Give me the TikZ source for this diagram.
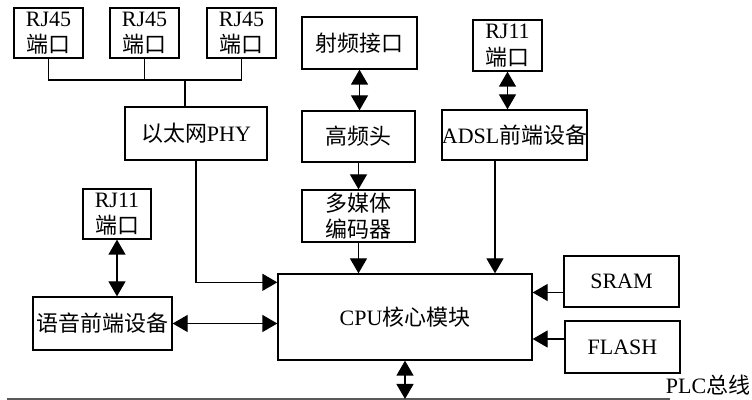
\documentclass[tikz,border=0pt]{standalone}
\usepackage{fontspec}
\usepackage{tikz}
\usetikzlibrary{arrows.meta}
\setmainfont{Liberation Serif}
\newfontfamily\cjk{Noto Sans CJK SC}

\begin{document}
\begin{tikzpicture}[
  blk/.style={draw=black,line width=0.75pt,fill=white,align=center,inner sep=0pt,font=\fontsize{12.5}{15}\selectfont},
  lnk/.style={line width=0.75pt},
  tip/.style={-{Triangle[width=0.34cm,length=0.3cm]}},
  tips/.style={{Triangle[width=0.34cm,length=0.3cm]}-{Triangle[width=0.34cm,length=0.3cm]}}
]
\definecolor{cbus}{rgb}{0.35,0.35,0.35}
\useasboundingbox (0,0) rectangle (15.04,8);
%
\node[blk,minimum width=1.38cm,minimum height=1.0cm] (rja) at (0.97,7.34) {RJ45\\{\cjk 端口}};
\node[blk,minimum width=1.38cm,minimum height=1.0cm] (rjb) at (2.89,7.34) {RJ45\\{\cjk 端口}};
\node[blk,minimum width=1.38cm,minimum height=1.0cm] (rjc) at (4.83,7.34) {RJ45\\{\cjk 端口}};
\node[blk,minimum width=2.84cm,minimum height=1.06cm] (phy) at (3.92,5.33) {{\cjk 以太网}PHY};
\node[blk,minimum width=2.30cm,minimum height=1.04cm] (rf) at (7.19,7.14) {\cjk 射频接口};
\node[blk,minimum width=2.26cm,minimum height=1.02cm] (hf) at (7.17,5.27) {\cjk 高频头};
\node[blk,minimum width=2.26cm,minimum height=1.04cm] (enc) at (7.17,3.68) {\cjk 多媒体\\\cjk 编码器};
\node[blk,minimum width=1.38cm,minimum height=1.02cm] (rjd) at (10.15,7.09) {RJ11\\{\cjk 端口}};
\node[blk,minimum width=2.74cm,minimum height=1.0cm] (adsl) at (10.29,5.30) {ADSL{\cjk 前端设备}};
\node[blk,minimum width=1.36cm,minimum height=1.0cm] (rje) at (2.34,3.72) {RJ11\\{\cjk 端口}};
\node[blk,minimum width=2.78cm,minimum height=1.06cm] (voice) at (2.05,1.53) {\cjk 语音前端设备};
\node[blk,minimum width=5.08cm,minimum height=1.72cm] (cpu) at (8.10,1.66) {CPU{\cjk 核心模块}};
\node[blk,minimum width=2.30cm,minimum height=1.02cm] (sram) at (12.43,2.37) {SRAM};
\node[blk,minimum width=2.30cm,minimum height=1.04cm] (flash) at (12.45,1.06) {FLASH};
\node[font=\fontsize{12.5}{15}\selectfont] (plc) at (14.16,0.30) {PLC{\cjk 总线}};
\coordinate (bus) at (3.70,6.40);
\coordinate (plcl) at (0.14,0.02);
\coordinate (plcr) at (13.40,0.02);
%
\draw[lnk] (rja.south) |- (bus);
\draw[lnk] (rjb.south) |- (bus);
\draw[lnk] (rjc.south) |- (bus);
\draw[lnk] (bus) -- (bus |- phy.north);
\draw[lnk,tip] (phy.south) |- ([yshift=-0.18cm]cpu.north west);
\draw[lnk,tips] (rf.south) -- (rf.south |- hf.north);
\draw[lnk,tip] (hf.south) -- (hf.south |- enc.north);
\draw[lnk,tip] (enc.south) -- (enc.south |- cpu.north);
\draw[lnk,tips] (rjd.south) -- (rjd.south |- adsl.north);
\draw[lnk,tip] ([xshift=-0.39cm]adsl.south) -- ([xshift=-0.39cm]adsl.south |- cpu.north);
\draw[lnk,tips] (rje.south) -- (rje.south |- voice.north);
\draw[lnk,tips] (voice.east) -- (voice.east -| cpu.west);
\draw[lnk,tip] ([yshift=-0.22cm]sram.west) -- ([yshift=-0.22cm]sram.west -| cpu.east);
\draw[lnk,tip] ([yshift=0.16cm]flash.west) -- ([yshift=0.16cm]flash.west -| cpu.east);
\draw[line width=1.4pt,draw=cbus] (plcl) -- (plcr);
\draw[lnk,tips] (cpu.south) -- (cpu.south |- plcl);
%
\end{tikzpicture}
\end{document}
